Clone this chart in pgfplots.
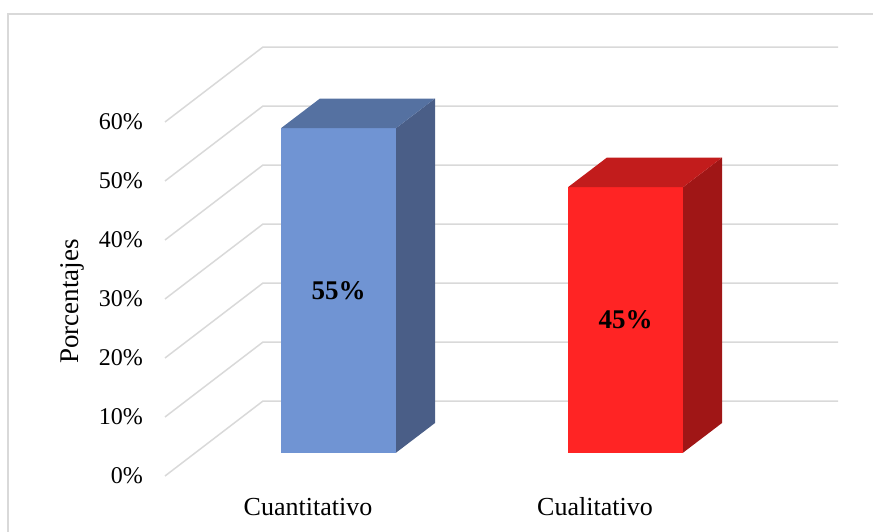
\documentclass[border=0pt]{standalone}
\usepackage{fontspec}
\setmainfont{Liberation Serif}
\usepackage{pgfplots}
\pgfplotsset{compat=1.18}

\definecolor{gridgray}{HTML}{D9D9D9}
\definecolor{blueFront}{HTML}{7094D3}
\definecolor{blueTop}{HTML}{5571A1}
\definecolor{blueSide}{HTML}{4A5E87}
\definecolor{redFront}{HTML}{FF2424}
\definecolor{redTop}{HTML}{C21C1C}
\definecolor{redSide}{HTML}{A01616}

\begin{document}
\begin{tikzpicture}
    \begin{axis}[
            scale only axis,
            width=873pt, height=532pt,
            xmin=0, xmax=873,
            ymin=-9.4915, ymax=80.678,
            clip=false,
            axis line style={draw=none},
            tick style={draw=none},
            xtick={308,595},
            xticklabels={Cuantitativo, Cualitativo},
            xticklabel style={anchor=base, yshift=16pt, font=\fontsize{26}{30}\selectfont},
            ytick={0,10,20,30,40,50,60},
            yticklabels={0\%,10\%,20\%,30\%,40\%,50\%,60\%},
            yticklabel style={anchor=east, inner sep=0pt, xshift=143pt, font=\fontsize{24}{28}\selectfont},
            % position of the bar front face inside the floor depth
            front/.style={xshift=30.5pt, yshift=23.3pt, draw=none},
        ]

        % chart frame
        \draw[gridgray, line width=2pt] (axis cs:8,78.3) rectangle (axis cs:900,-20);

        % grid lines: front edge -> back wall
        \addplot[gridgray, line width=1.5pt] coordinates {(165,0) (263,12.71) (838,12.71)};
        \addplot[gridgray, line width=1.5pt] coordinates {(165,10) (263,22.71) (838,22.71)};
        \addplot[gridgray, line width=1.5pt] coordinates {(165,20) (263,32.71) (838,32.71)};
        \addplot[gridgray, line width=1.5pt] coordinates {(165,30) (263,42.71) (838,42.71)};
        \addplot[gridgray, line width=1.5pt] coordinates {(165,40) (263,52.71) (838,52.71)};
        \addplot[gridgray, line width=1.5pt] coordinates {(165,50) (263,62.71) (838,62.71)};
        \addplot[gridgray, line width=1.5pt] coordinates {(165,60) (263,72.71) (838,72.71)};

        % Cuantitativo: 55
        \addplot[front, fill=blueFront] coordinates {(250.5,0) (365.5,0) (365.5,55) (250.5,55)} -- cycle;
        \addplot[front, fill=blueSide] coordinates {(365.5,0) (404.5,5.03) (404.5,60.03) (365.5,55)} -- cycle;
        \addplot[front, fill=blueTop] coordinates {(250.5,55) (365.5,55) (404.5,60.03) (289.5,60.03)} -- cycle;

        % Cualitativo: 45
        \addplot[front, fill=redFront] coordinates {(537.5,0) (652.5,0) (652.5,45) (537.5,45)} -- cycle;
        \addplot[front, fill=redSide] coordinates {(652.5,0) (691.5,5.03) (691.5,50.03) (652.5,45)} -- cycle;
        \addplot[front, fill=redTop] coordinates {(537.5,45) (652.5,45) (691.5,50.03) (576.5,50.03)} -- cycle;

        \node[font=\bfseries\fontsize{27}{30}\selectfont] at (axis cs:338.5,31.45) {55\%};
        \node[font=\bfseries\fontsize{27}{30}\selectfont] at (axis cs:625.5,26.45) {45\%};

        \node[rotate=90, font=\fontsize{27}{30}\selectfont] at (axis cs:72,29.54) {Porcentajes};
    \end{axis}
    \pgfresetboundingbox
    \useasboundingbox (current axis.south west) rectangle (current axis.north east);
\end{tikzpicture}
\end{document}
